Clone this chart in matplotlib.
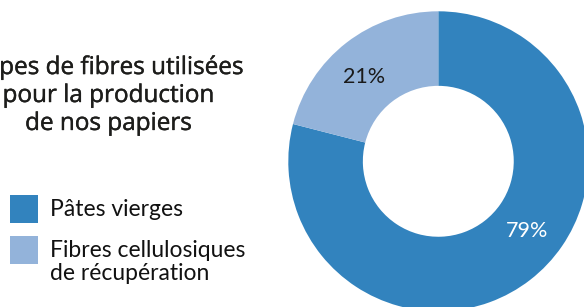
import matplotlib
matplotlib.use("Agg")
import matplotlib.pyplot as plt
from matplotlib.patches import Rectangle
import matplotlib.patheffects as pe
import numpy as np

# ---- data ----
categories = ["Pâtes vierges", "Fibres cellulosiques\nde récupération"]
values = [79, 21]
colors = ["#3283be", "#93b3da"]
label_colors = ["white", "#1a1a1a"]
title = "Types de fibres utilisées\npour la production\nde nos papiers"

# ---- layout ----
W, H = 584, 307
fig = plt.figure(figsize=(W / 100, H / 100), dpi=100)
ax = fig.add_axes([0, 0, 1, 1])

center = (438.3, H - 161.3)
R = 150
ring = 0.497

wedges, _ = ax.pie(values, colors=colors, startangle=90, counterclock=False,
                   radius=R, center=center,
                   wedgeprops=dict(width=R * ring, linewidth=0))
ax.set_xlim(0, W)
ax.set_ylim(0, H)
ax.set_aspect("equal")
ax.axis("off")

# percentage labels on ring
label_r = R * (1 - ring / 2)
label_angle_shift = [14, 3.5]
for w, v, c, sh in zip(wedges, values, label_colors, label_angle_shift):
    th = np.deg2rad((w.theta1 + w.theta2) / 2 + sh)
    ax.text(center[0] + label_r * np.cos(th), center[1] + label_r * np.sin(th),
            f"{v}%", ha="center", va="center", color=c,
            fontsize=15.5, family="Lato")

# title
ax.text(108.5, H - 96, title, ha="center", va="center", fontsize=17.5,
        family="Open Sans", color="#1d1d1b", linespacing=1.22,
        path_effects=[pe.withStroke(linewidth=0.3, foreground="#1d1d1b")])

# legend (drawn manually so the square aligns with the first label line)
sq = 28
for i, (cat, col) in enumerate(zip(categories, colors)):
    top = 195 + 41 * i
    ax.add_patch(Rectangle((10, H - top - sq), sq, sq, facecolor=col,
                           edgecolor="none"))
    ax.text(50, H - top - 4, cat, ha="left", va="top", fontsize=16.5,
            family="Lato", color="#111111", linespacing=1.13)

fig.savefig("out.png", dpi=100)
